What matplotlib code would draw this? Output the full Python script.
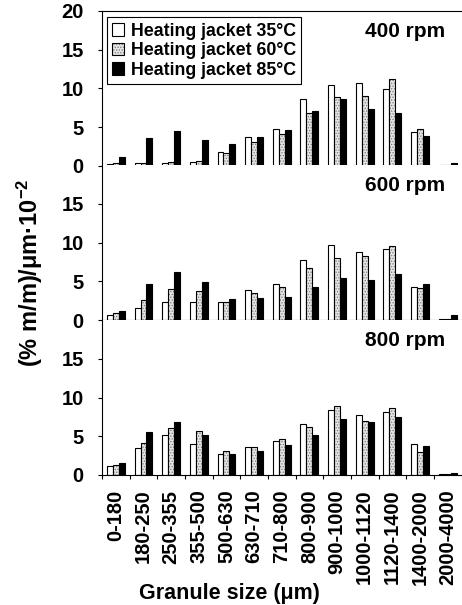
import matplotlib
matplotlib.use("Agg")
from matplotlib import pyplot as plt
from matplotlib.patches import Patch
import numpy as np

plt.rcParams['font.family'] = ['Liberation Sans', 'DejaVu Sans']
plt.rcParams['font.weight'] = 'bold'
plt.rcParams['mathtext.fontset'] = 'custom'
plt.rcParams['mathtext.rm'] = 'Liberation Sans:bold'
plt.rcParams['mathtext.it'] = 'Liberation Sans:bold'
plt.rcParams['hatch.linewidth'] = 0.6

# granule size classes (um)
sizes = ["0-180", "180-250", "250-355", "355-500", "500-630", "630-710",
         "710-800", "800-900", "900-1000", "1000-1120", "1120-1400",
         "1400-2000", "2000-4000"]
series = ["Heating jacket 35°C", "Heating jacket 60°C", "Heating jacket 85°C"]
speeds = ["400 rpm", "600 rpm", "800 rpm"]

# 400 rpm
r400_35 = [0.3, 0.35, 0.45, 0.5, 1.8, 3.7, 4.8, 8.6, 10.5, 10.7, 9.9, 4.4, 0.1]
r400_60 = [0.35, 0.35, 0.5, 0.7, 1.7, 3.1, 4.1, 6.8, 8.9, 9.0, 11.2, 4.8, 0.1]
r400_85 = [1.1, 3.6, 4.5, 3.3, 2.9, 3.8, 4.6, 7.1, 8.6, 7.3, 6.9, 3.9, 0.4]
# 600 rpm
r600_35 = [0.6, 1.5, 2.3, 2.3, 2.3, 3.9, 4.7, 7.8, 9.7, 8.8, 9.2, 4.3, 0.1]
r600_60 = [0.9, 2.6, 4.0, 3.7, 2.35, 3.5, 4.3, 6.7, 8.0, 8.2, 9.6, 4.1, 0.1]
r600_85 = [1.2, 4.7, 6.2, 4.9, 2.7, 2.9, 3.0, 4.3, 5.4, 5.2, 5.9, 4.7, 0.6]
# 800 rpm
r800_35 = [1.1, 3.5, 5.2, 3.95, 2.7, 3.65, 4.4, 6.6, 8.4, 7.7, 8.1, 4.0, 0.1]
r800_60 = [1.35, 4.1, 6.1, 5.65, 3.1, 3.6, 4.6, 6.2, 8.9, 7.0, 8.6, 3.0, 0.1]
r800_85 = [1.6, 5.5, 6.9, 5.1, 2.65, 3.1, 3.9, 5.2, 7.2, 6.9, 7.5, 3.7, 0.2]

panels = [(r400_35, r400_60, r400_85),
          (r600_35, r600_60, r600_85),
          (r800_35, r800_60, r800_85)]

fig = plt.figure(figsize=(4.62, 6.05), dpi=100)

x = np.arange(len(sizes))
w = 0.215
left = 102 / 462
width = 359.5 / 462
bottoms = [1 - 166 / 605, 1 - 320 / 605, 1 - 475 / 605]
height = 155 / 605

axes = []
for k, (s35, s60, s85) in enumerate(panels):
    ax = fig.add_axes([left, bottoms[k], width, height])
    axes.append(ax)
    ax.bar(x - w, s35, w, color='white', edgecolor='black', linewidth=0.8, zorder=2)
    ax.bar(x, s60, w, color='#e4e4e4', edgecolor='#7a7a7a', hatch='......',
           linewidth=0, zorder=2)
    ax.bar(x, s60, w, fill=False, edgecolor='black', linewidth=0.8, zorder=3)
    ax.bar(x + w, s85, w, color='black', edgecolor='black', linewidth=0.8, zorder=2)

    ax.set_xlim(-0.5, len(sizes) - 0.5)
    ax.set_ylim(0, 20)
    ax.set_yticks([0, 5, 10, 15, 20] if k == 0 else [0, 5, 10, 15])
    ax.tick_params(axis='y', direction='out', length=3.2, width=0.8, pad=10,
                   labelsize=14.5)
    ax.spines['right'].set_visible(False)
    ax.spines['top'].set_visible(k == 0)
    for sp in ax.spines.values():
        sp.set_linewidth(0.8)
    ax.text(0.955, 0.865, speeds[k], transform=ax.transAxes, ha='right',
            va='center', fontsize=15, fontweight='bold')

    if k < 2:
        ax.set_xticks([])
    else:
        ax.set_xticks(x)
        ax.set_xticklabels(sizes, rotation=90, fontsize=14.5)
        ax.set_xticks(np.arange(-0.5, len(sizes)), minor=True)
        ax.tick_params(axis='x', which='major', length=0, pad=10.5)
        ax.tick_params(axis='x', which='minor', direction='out', length=3,
                       width=0.8)

h35 = Patch(facecolor='white', edgecolor='black', linewidth=0.8)
h60 = (Patch(facecolor='#e4e4e4', edgecolor='#7a7a7a', hatch='......', linewidth=0),
       Patch(fill=False, edgecolor='black', linewidth=0.8))
h85 = Patch(facecolor='black', edgecolor='black', linewidth=0.8)
leg = axes[0].legend([h35, h60, h85], series, loc='upper left',
                     bbox_to_anchor=(0.013, 0.96), fontsize=12.8,
                     handlelength=0.7, handleheight=0.7, handletextpad=0.35,
                     labelspacing=0.15, borderpad=0.3, borderaxespad=0,
                     fancybox=False, framealpha=1, edgecolor='black')
leg.get_frame().set_linewidth(0.8)

fig.text(30 / 462, 1 - 273 / 605, r"(% m/m)/μm·10$^{-2}$", rotation=90,
         ha='center', va='center', fontsize=17, fontweight='bold')
fig.text(229 / 462, 1 - 594 / 605, "Granule size (μm)", ha='center',
         va='center', fontsize=15.5, fontweight='bold')

fig.savefig("out.png", dpi=100)
